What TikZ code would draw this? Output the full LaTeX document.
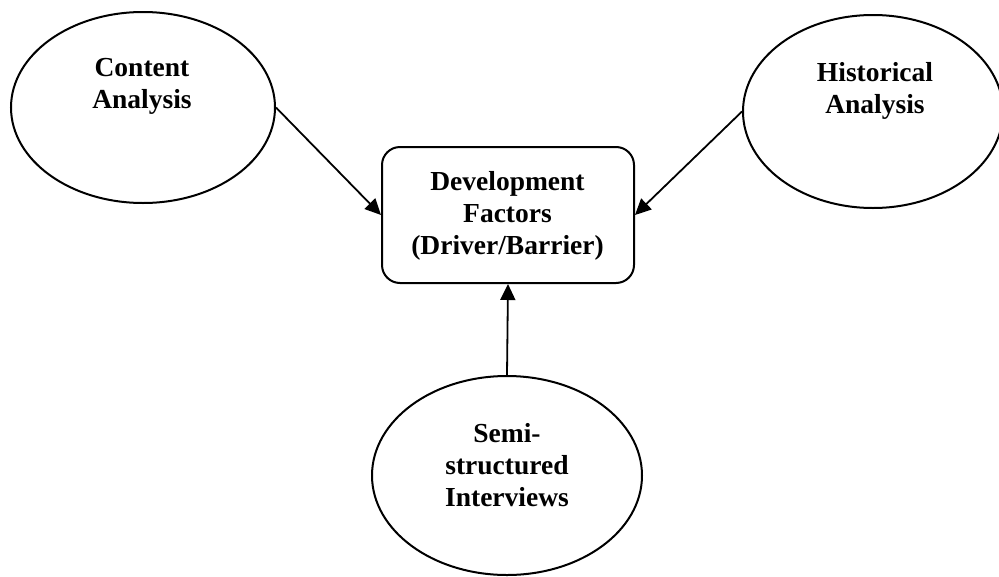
\documentclass[tikz,border=0pt]{standalone}
\usepackage{fontspec}
\setmainfont{Liberation Serif}
\usetikzlibrary{shapes.geometric,arrows.meta}
\begin{document}
\begin{tikzpicture}[x=1pt,y=-1pt,
  outline/.style={draw=black,line width=2pt},
  method/.style={outline,ellipse,inner sep=0pt},
  factorbox/.style={outline,rectangle,rounded corners=18pt,inner sep=0pt},
  label/.style={align=center,inner sep=0pt,font=\fontsize{27.5}{32}\selectfont\bfseries},
  link/.style={line width=1.8pt,-{Triangle[length=16pt,width=15pt]}}]
  \useasboundingbox (0,0) rectangle (999,576);
  \begin{scope}
    \clip (0,0) rectangle (999,576);
    % three data sources
    \node[method,minimum width=264pt,minimum height=191pt] (content) at (143,107.5) {};
    \node[method,minimum width=260pt,minimum height=193pt] (historical) at (873,111.5) {};
    \node[method,minimum width=270pt,minimum height=199pt] (interviews) at (507,475.5) {};
    % central factor box
    \node[factorbox,minimum width=252pt,minimum height=136pt] (factors) at (508,215) {};
  \end{scope}
  % labels
  \node[label] (contentText) at (142,86) {Content\\Analysis};
  \node[label] (historicalText) at (875,90.5) {Historical\\Analysis};
  \node[label] (factorsText) at (507.5,216) {Development\\Factors\\(Driver/Barrier)};
  \node[label] (interviewsText) at (507,465) {Semi-\\structured\\Interviews};
  % connectors
  \draw[link] (content.east) -- (factors.west);
  \draw[link] (historical.west) -- (factors.east);
  \draw[link] (interviews.north) -- (factors.south);
\end{tikzpicture}
\end{document}
